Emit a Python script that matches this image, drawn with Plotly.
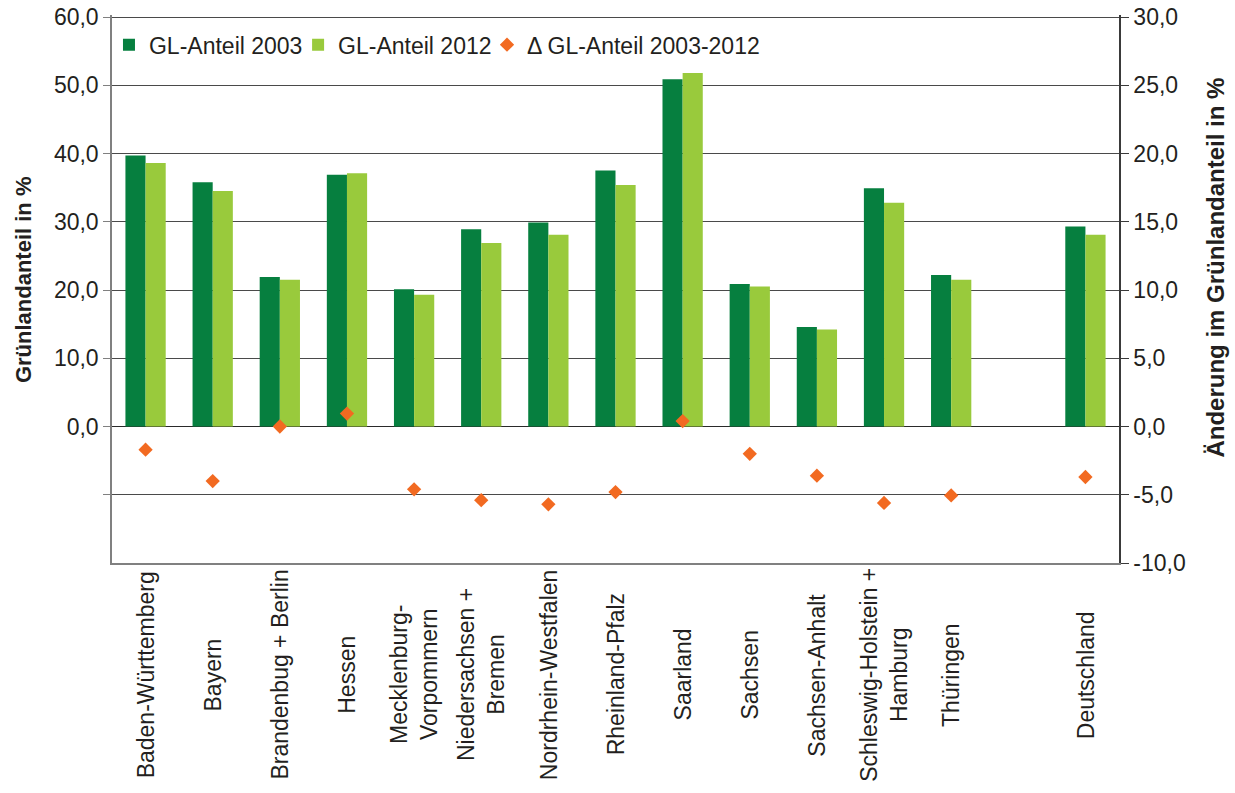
import plotly.graph_objects as go

categories = ["Baden-Württemberg", "Bayern", "Brandenbug + Berlin", "Hessen",
              "Mecklenburg-<br>Vorpommern", "Niedersachsen +<br>Bremen", "Nordrhein-Westfalen",
              "Rheinland-Pfalz", "Saarland", "Sachsen", "Sachsen-Anhalt",
              "Schleswig-Holstein +<br>Hamburg", "Thüringen", " ", "Deutschland"]
gl_2003 = [39.7, 35.8, 21.9, 36.9, 20.1, 28.9, 29.9, 37.5, 50.9, 20.9, 14.6, 34.9, 22.2, None, 29.3]
gl_2012 = [38.6, 34.5, 21.5, 37.1, 19.3, 26.9, 28.1, 35.4, 51.8, 20.5, 14.2, 32.8, 21.5, None, 28.1]
delta = [-1.7, -4.0, 0.0, 0.95, -4.6, -5.4, -5.7, -4.8, 0.4, -2.0, -3.6, -5.6, -5.05, None, -3.7]

left_ticks = [-10, 0, 10, 20, 30, 40, 50, 60]
right_ticks = [-10, -5, 0, 5, 10, 15, 20, 25, 30]

def fmt(v):
    return f"{v:.1f}".replace(".", ",")

TXT = "#231f20"
FONT = "Liberation Sans, Arial, sans-serif"

fig = go.Figure()
fig.add_trace(go.Bar(x=categories, y=gl_2003, name="GL-Anteil 2003", legend="legend",
                     marker=dict(color="#067f3f", line=dict(width=0))))
fig.add_trace(go.Bar(x=categories, y=gl_2012, name="GL-Anteil 2012", legend="legend2",
                     marker=dict(color="#99ca3c", line=dict(width=0))))
fig.add_trace(go.Scatter(x=categories, y=delta, name="\u0394 GL-Anteil 2003-2012", yaxis="y2",
                         legend="legend3", mode="markers",
                         marker=dict(symbol="diamond", size=11, color="#f26a21")))

# category labels, centred below the axis
for c in categories:
    if c.strip():
        fig.add_annotation(x=c, xref="x", y=-0.204, yref="paper", text=c,
                           textangle=-90, showarrow=False, xanchor="center", yanchor="middle",
                           align="center", font=dict(size=23, color=TXT, family=FONT))

# axis titles
fig.add_annotation(x=-0.0884, xref="paper", y=0.518, yref="paper",
                   text="<b>Grünlandanteil in %</b>", textangle=-90, showarrow=False,
                   xanchor="center", yanchor="middle", font=dict(size=22, color=TXT, family=FONT))
fig.add_annotation(x=1.0963, xref="paper", y=0.539, yref="paper",
                   text="<b>Änderung im Grünlandanteil in %</b>", textangle=-90, showarrow=False,
                   xanchor="center", yanchor="middle", font=dict(size=24, color=TXT, family=FONT))

def leg(x):
    return dict(orientation="h", x=x, xanchor="left", y=0.985, yanchor="top",
                font=dict(size=23, color=TXT), bgcolor="rgba(0,0,0,0)")

fig.update_layout(
    width=1235, height=793,
    margin=dict(l=112, r=116, t=15, b=230),
    paper_bgcolor="white", plot_bgcolor="white",
    font=dict(family=FONT, size=23, color=TXT),
    barmode="group", bargap=0.4, bargroupgap=0,
    showlegend=True,
    legend=leg(-0.003), legend2=leg(0.1848), legend3=leg(0.3724),
    xaxis=dict(type="category", categoryorder="array", categoryarray=categories,
               showticklabels=False, ticks="", showgrid=False, zeroline=False, automargin=False,
               showline=True, linecolor="#808080", linewidth=1.5, range=[-0.5, 14.5]),
    yaxis=dict(range=[-20, 60.3], tickvals=left_ticks, automargin=False,
               ticktext=["" if v < 0 else fmt(v) for v in left_ticks],
               showgrid=True, gridcolor="#4a4a4a", gridwidth=1.2,
               zeroline=True, zerolinecolor="#2a2a2a", zerolinewidth=1.2,
               showline=True, linecolor="#808080", linewidth=1.5,
               ticks="outside", ticklen=7, tickcolor="#808080",
               tickfont=dict(size=23, color=TXT)),
    yaxis2=dict(range=[-10, 30.15], tickvals=right_ticks, ticktext=[fmt(v) for v in right_ticks],
                overlaying="y", side="right", showgrid=False, zeroline=False, automargin=False,
                showline=True, linecolor="#3a3a3a", linewidth=1.5,
                ticks="outside", ticklen=8, tickcolor="#3a3a3a",
                tickfont=dict(size=23, color=TXT)),
)

fig.write_html("out.html", config={"displayModeBar": False},
               post_script="document.body.style.margin='0';document.body.style.overflow='hidden';")
